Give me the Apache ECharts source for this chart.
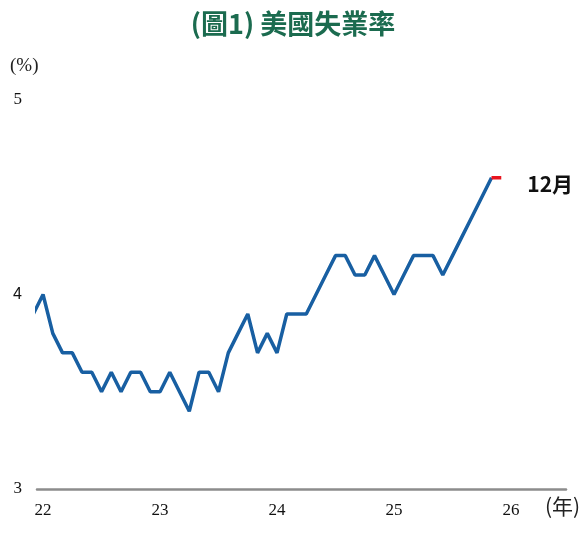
<!DOCTYPE html>
<html>
<head>
<meta charset="utf-8">
<script src="https://cdn.jsdelivr.net/npm/echarts@6/dist/echarts.min.js"></script>
<style>html,body{margin:0;padding:0;background:#fff}#c{width:586px;height:535px}</style>
</head>
<body>
<div id="c"></div>
<script>
// Monthly US unemployment rate (%), Dec 2021 – Dec 2025
const months = [
  '2021-12',
  '2022-01','2022-02','2022-03','2022-04','2022-05','2022-06','2022-07','2022-08','2022-09','2022-10','2022-11','2022-12',
  '2023-01','2023-02','2023-03','2023-04','2023-05','2023-06','2023-07','2023-08','2023-09','2023-10','2023-11','2023-12',
  '2024-01','2024-02','2024-03','2024-04','2024-05','2024-06','2024-07','2024-08','2024-09','2024-10','2024-11','2024-12',
  '2025-01','2025-02','2025-03','2025-04','2025-05','2025-06','2025-07','2025-08','2025-09','2025-10','2025-11','2025-12'
];
const rates = [
  3.9,
  4.0,3.8,3.7,3.7,3.6,3.6,3.5,3.6,3.5,3.6,3.6,3.5,
  3.5,3.6,3.5,3.4,3.6,3.6,3.5,3.7,3.8,3.9,3.7,3.8,
  3.7,3.9,3.9,3.9,4.0,4.1,4.2,4.2,4.1,4.1,4.2,4.1,
  4.0,4.1,4.2,4.2,4.2,4.1,4.2,4.3,4.4,4.5,4.6,4.6
];
const latestLabel = '12月';
const yearTicks = [2022, 2023, 2024, 2025, 2026];
const yTicks = [3, 4, 5];

const monthIndex = s => { const [y, m] = s.split('-').map(Number); return (y - 2022) * 12 + (m - 1); };
const pts = months.map((m, i) => [monthIndex(m), rates[i]]);
const bluePts = pts.slice(0, pts.length - 1);
const redPts = pts.slice(pts.length - 2);

const chart = echarts.init(document.getElementById('c'));
chart.setOption({
  animation: false,
  title: {
    text: '(圖1) 美國失業率',
    left: 'center', top: 5,
    textStyle: { fontFamily: 'Noto Sans CJK TC', fontWeight: 'bold', fontSize: 27, color: '#1b6b4f' }
  },
  grid: { left: 37, right: 20, top: 100, bottom: 46 },
  xAxis: {
    type: 'value',
    min: -0.62, max: 53.64,
    axisLine: { show: true, lineStyle: { color: '#8c8c8c', width: 2.5 } },
    axisTick: { show: false },
    splitLine: { show: false },
    axisLabel: {
      customValues: yearTicks.map(y => (y - 2022) * 12),
      formatter: v => String(2022 + Math.round(v / 12)).slice(2),
      fontFamily: 'Liberation Serif', fontSize: 17, color: '#111', margin: 13
    }
  },
  yAxis: {
    type: 'value', min: 3, max: 5, interval: 1,
    axisLine: { show: false }, axisTick: { show: false }, splitLine: { show: false },
    axisLabel: {
      margin: 15, color: '#111',
      formatter: v => v === 4 ? '{s|' + v + '}' : '{r|' + v + '}',
      rich: {
        r: { fontFamily: 'Liberation Serif', fontSize: 17, color: '#111' },
        s: { fontFamily: 'Liberation Sans', fontSize: 16, color: '#111' }
      }
    }
  },
  graphic: [
    { type: 'text', left: 10, top: 57, style: { text: '(%)', font: '19px "Liberation Serif"', fill: '#222' } },
    { type: 'text', left: 545, top: 496, style: { text: '(年)', font: '21px "Noto Sans CJK TC"', fill: '#222' } }
  ],
  series: [
    {
      type: 'line', data: bluePts, symbol: 'none', clip: true,
      lineStyle: { color: '#185fa2', width: 3.5 }
    },
    {
      type: 'line', data: redPts, symbol: 'none', clip: true,
      lineStyle: { color: '#e8141e', width: 3.5 },
      endLabel: {
        show: true, formatter: latestLabel, distance: 26, offset: [0, 6],
        fontFamily: 'Noto Sans CJK TC', fontWeight: 'bold', fontSize: 21, color: '#111'
      }
    }
  ]
});
</script>
</body>
</html>
